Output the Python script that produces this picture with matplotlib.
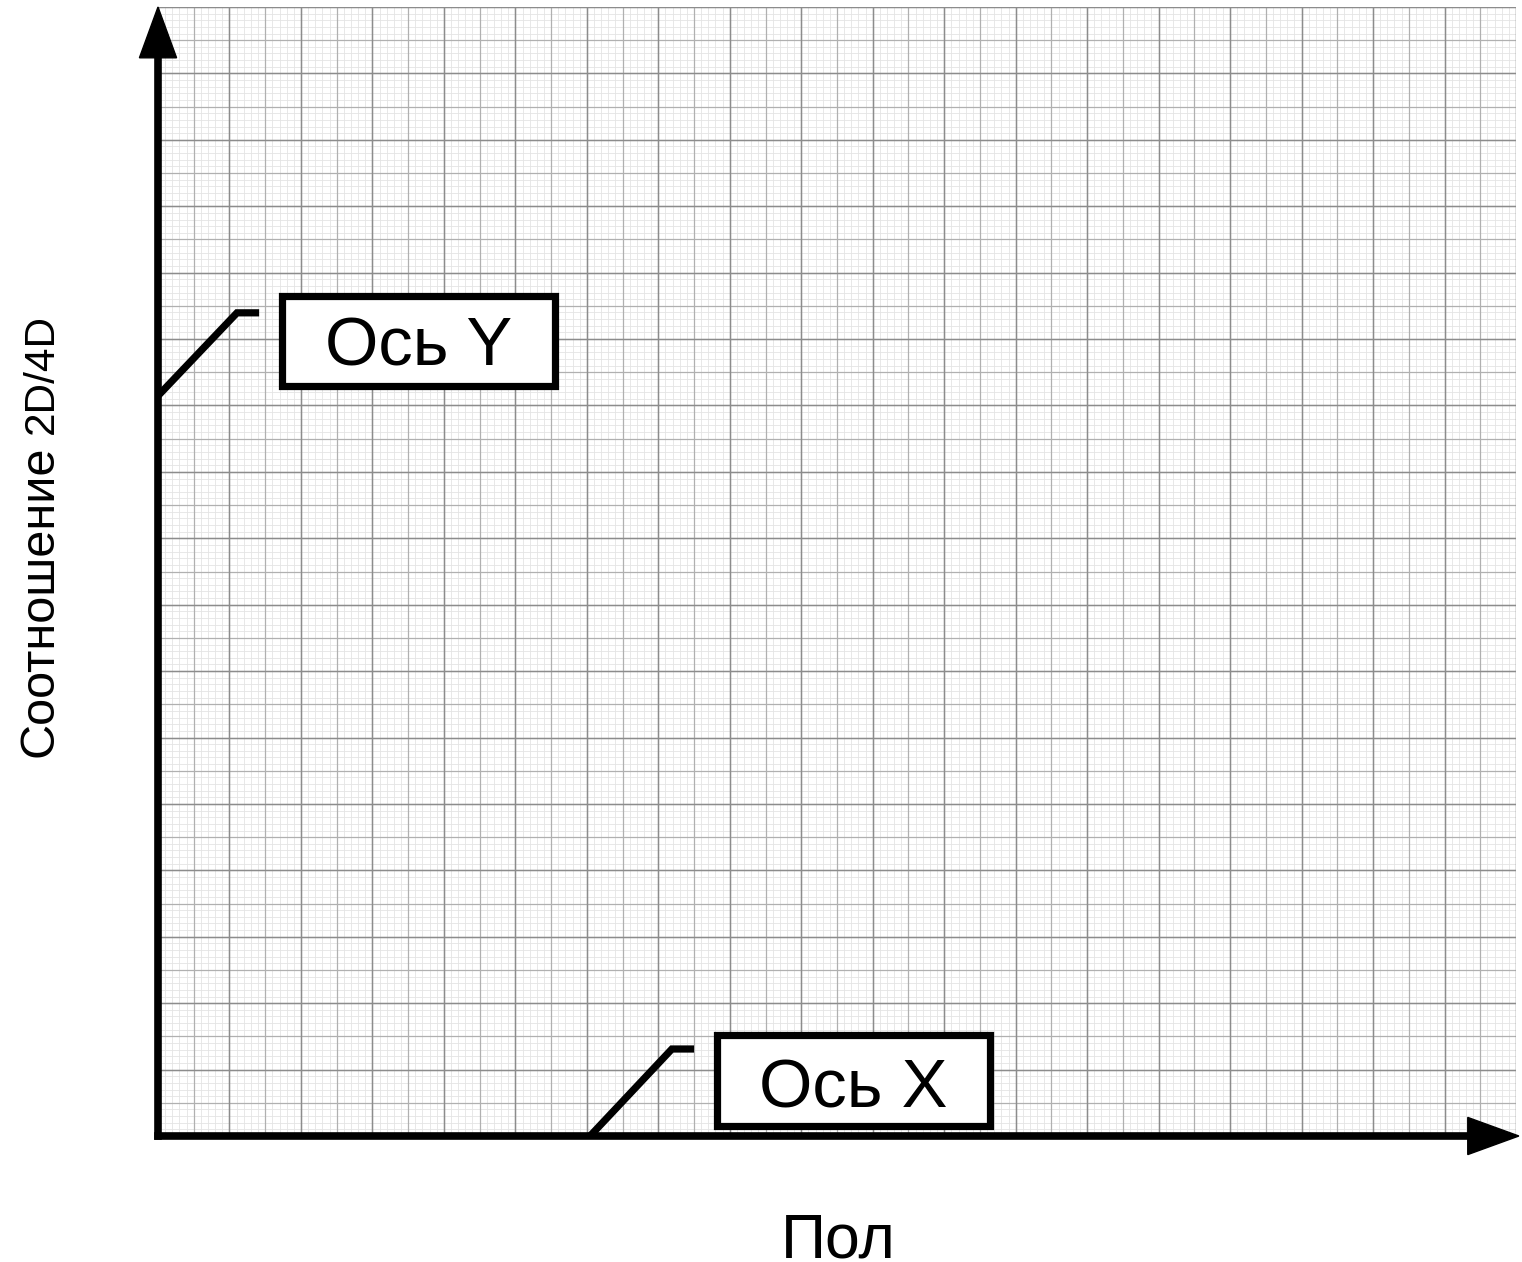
import numpy as np
import matplotlib
matplotlib.use("Agg")
import matplotlib.pyplot as plt
from matplotlib.patches import Rectangle, Polygon

plt.rcParams['font.family'] = ['Liberation Sans', 'DejaVu Sans']

# chart content: an empty graph-paper template with two callouts
grid_cols = 38          # number of grid cells along x
grid_rows = 34          # number of grid cells along y
minor_per_cell = 5      # fine subdivisions per cell
x_label = "Пол"
y_label_parts = ["Соотношение", "2D/4D"]
callout_texts = ["Ось Y", "Ось X"]

W, H = 1522, 1262
fig = plt.figure(figsize=(W / 100, H / 100), dpi=100)
# axes frame in pixel terms: left 158, right 1516, top 7, bottom 1136
ax = fig.add_axes([158 / W, (H - 1136) / H, (1516 - 158) / W, (1136 - 7) / H])
ax.set_xlim(0, grid_cols)
ax.set_ylim(0, grid_rows)
ax.set_axis_off()

# graph paper grid
fine_x = np.arange(0, grid_cols * minor_per_cell + 1) / minor_per_cell
fine_y = np.arange(0, grid_rows * minor_per_cell + 1) / minor_per_cell
ax.vlines(fine_x, 0, grid_rows, color='#e4e4e4', lw=0.6, zorder=1)
ax.hlines(fine_y, 0, grid_cols, color='#e4e4e4', lw=0.6, zorder=1)
cells_x = np.arange(0, grid_cols + 1)
cells_y = np.arange(0, grid_rows + 1)
ax.vlines(cells_x, 0, grid_rows, color='#b0b0b0', lw=0.9, zorder=2)
ax.hlines(cells_y, 0, grid_cols, color='#b0b0b0', lw=0.9, zorder=2)
ax.vlines(cells_x[::2], 0, grid_rows, color='#8c8c8c', lw=1.0, zorder=3)
ax.hlines(cells_y[::2], 0, grid_cols, color='#8c8c8c', lw=1.0, zorder=3)

# axes with arrow heads
axis_lw = 5.5
ax.plot([0, 0], [0, grid_rows - 1.4], color='k', lw=axis_lw,
        solid_capstyle='projecting', clip_on=False, zorder=5)
ax.plot([0, grid_cols - 1.4], [0, 0], color='k', lw=axis_lw,
        solid_capstyle='projecting', clip_on=False, zorder=5)
ax.add_patch(Polygon([[-0.52, grid_rows - 1.53], [0.52, grid_rows - 1.53], [0, grid_rows]],
                     closed=True, color='k', clip_on=False, zorder=6))
ax.add_patch(Polygon([[grid_cols - 1.35, -0.56], [grid_cols - 1.35, 0.56], [grid_cols + 0.08, 0]],
                     closed=True, color='k', clip_on=False, zorder=6))

# callouts: leader line + boxed label
box_lw = 5.2
# Y callout
ax.plot([0, 2.21, 2.83], [22.29, 24.79, 24.79], color='k', lw=box_lw,
        solid_capstyle='butt', solid_joinstyle='miter', zorder=7)
ax.add_patch(Rectangle((3.456, 22.58), 11.12 - 3.456, 25.29 - 22.58, facecolor='white',
                       edgecolor='k', lw=box_lw, joinstyle='miter', zorder=7))
ax.text((3.456 + 11.12) / 2, 23.19, callout_texts[0], ha='center', va='baseline',
        fontsize=49.5, zorder=8)
# X callout
ax.plot([12.09, 14.38, 15.0], [0, 2.62, 2.62], color='k', lw=box_lw,
        solid_capstyle='butt', solid_joinstyle='miter', zorder=7)
ax.add_patch(Rectangle((15.63, 0.316), 23.27 - 15.63, 3.027 - 0.316, facecolor='white',
                       edgecolor='k', lw=box_lw, joinstyle='miter', zorder=7))
ax.text((15.63 + 23.27) / 2, 0.873, callout_texts[1], ha='center', va='baseline',
        fontsize=49.5, zorder=8)

# axis titles
fig.text(838 / W, 1 - 1257 / H, x_label, ha='center', va='baseline', fontsize=45)
fig.text(53 / W, 1 - 757 / H, y_label_parts[0], ha='left', va='baseline', fontsize=35,
         rotation=90, rotation_mode='anchor')
fig.text(53 / W, 1 - 434 / H, y_label_parts[1], ha='left', va='baseline', fontsize=30.5,
         rotation=90, rotation_mode='anchor')

fig.savefig('out.png', dpi=100, facecolor='white')
